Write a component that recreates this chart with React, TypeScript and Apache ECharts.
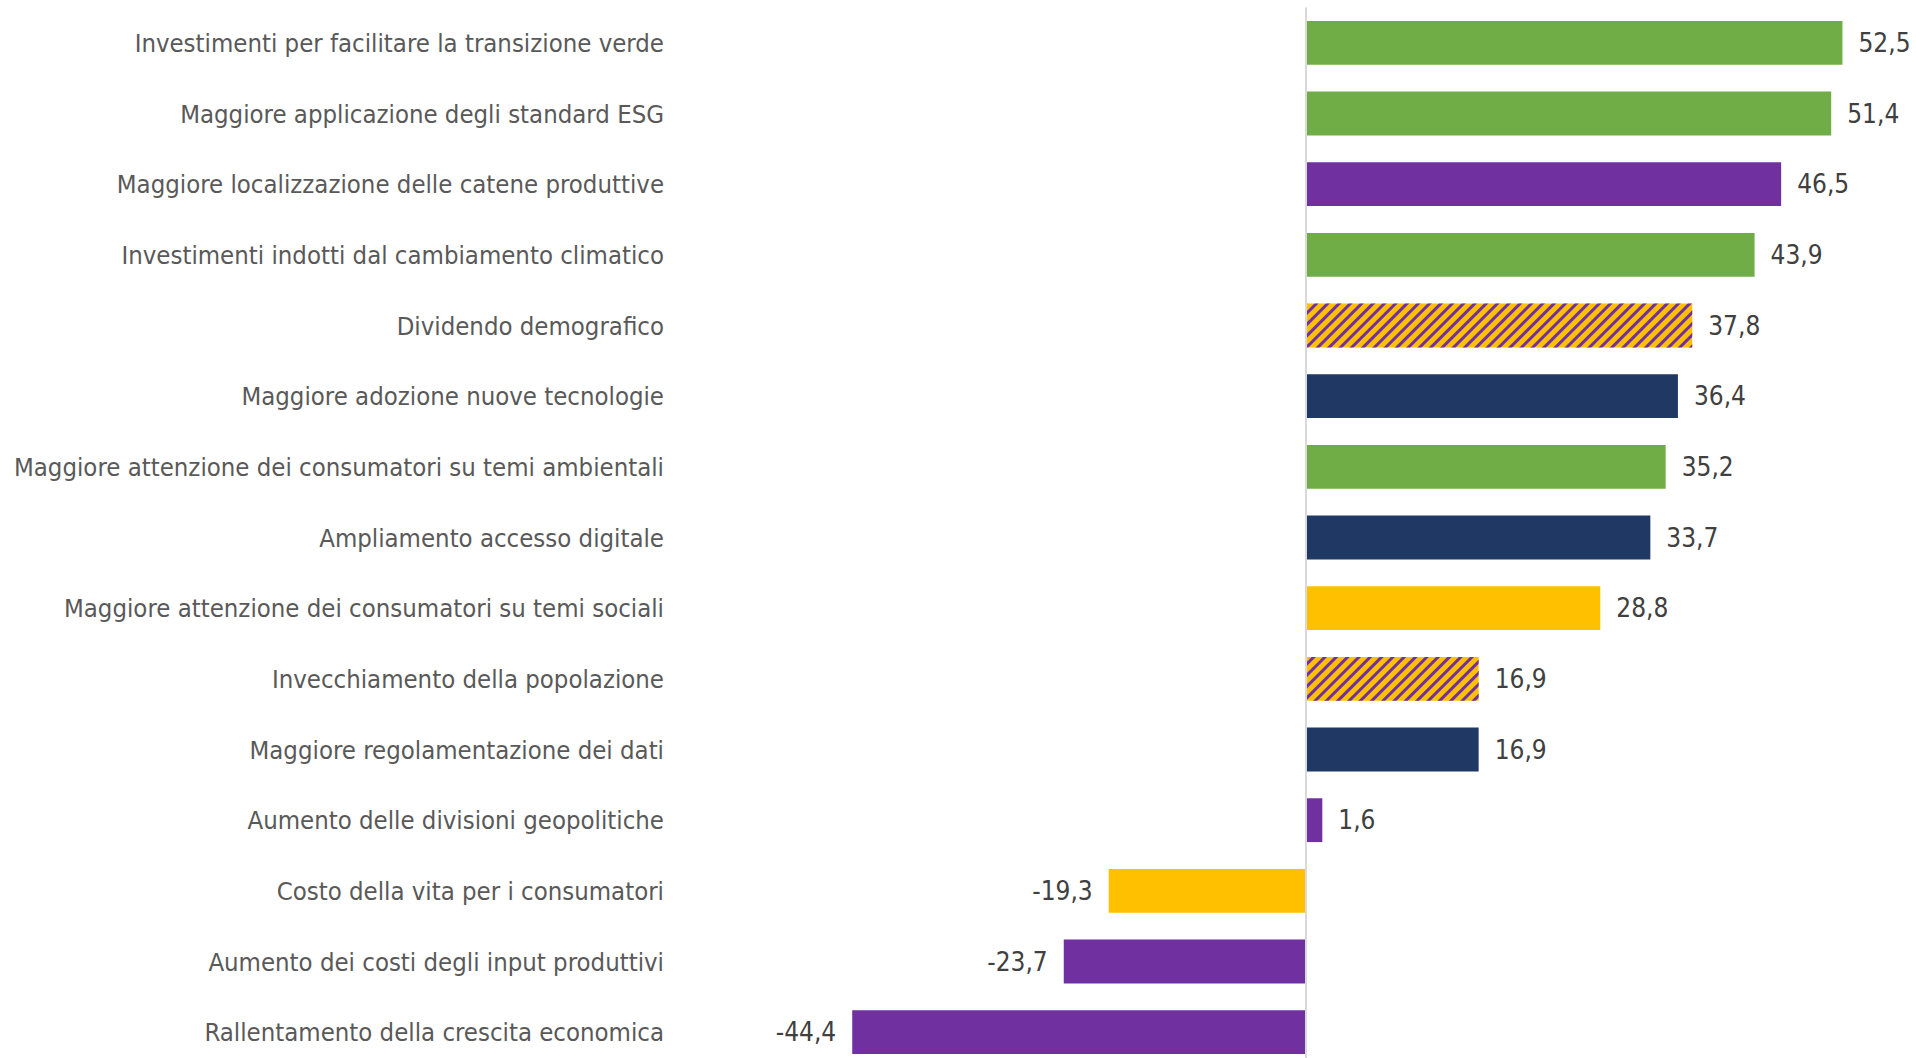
import React, { useEffect, useRef } from "react";
import * as echarts from "echarts";

const categories: string[] = [
  "Investimenti per facilitare la transizione verde",
  "Maggiore applicazione degli standard ESG",
  "Maggiore localizzazione delle catene produttive",
  "Investimenti indotti dal cambiamento climatico",
  "Dividendo demografico",
  "Maggiore adozione nuove tecnologie",
  "Maggiore attenzione dei consumatori su temi ambientali",
  "Ampliamento accesso digitale",
  "Maggiore attenzione dei consumatori su temi sociali",
  "Invecchiamento della popolazione",
  "Maggiore regolamentazione dei dati",
  "Aumento delle divisioni geopolitiche",
  "Costo della vita per i consumatori",
  "Aumento dei costi degli input produttivi",
  "Rallentamento della crescita economica",
];

const values: number[] = [52.5, 51.4, 46.5, 43.9, 37.8, 36.4, 35.2, 33.7, 28.8, 16.9, 16.9, 1.6, -19.3, -23.7, -44.4];

// theme of each driver
const themes: string[] = [
  "ambiente",
  "ambiente",
  "geoeconomia",
  "ambiente",
  "demografia",
  "tecnologia",
  "ambiente",
  "tecnologia",
  "sociale",
  "demografia",
  "tecnologia",
  "geoeconomia",
  "sociale",
  "geoeconomia",
  "geoeconomia",
];

const FONT = "'Liberation Sans Narrow', 'Arial Narrow', 'DejaVu Sans Condensed', sans-serif";

const themeStyle = (t: string): any => {
  switch (t) {
    case "ambiente":
      return { color: "#70AD47" };
    case "geoeconomia":
      return { color: "#7030A0" };
    case "tecnologia":
      return { color: "#1F3864" };
    case "sociale":
      return { color: "#FFC000" };
    case "demografia":
    default:
      return {
        color: "#FFC000",
        decal: {
          symbol: "rect",
          symbolSize: 1,
          color: "#7030A0",
          dashArrayX: [1, 0],
          dashArrayY: [3, 5],
          rotation: -Math.PI / 4,
        },
      };
  }
};

const fmt = (v: number) => v.toFixed(1).replace(".", ",");

export default function App() {
  const ref = useRef<HTMLDivElement>(null);
  useEffect(() => {
    document.body.style.margin = "0";
    const chart = echarts.init(ref.current!, undefined, { renderer: "svg" });
    const data = values.map((v, i) => ({
      value: v,
      itemStyle: themeStyle(themes[i]),
      label: { position: v < 0 ? "left" : "right" },
    }));
    chart.setOption({
      animation: false,
      backgroundColor: "#ffffff",
      grid: {
        left: 795,
        right: 48,
        top: 7.5,
        bottom: -9.5,
        containLabel: false,
        outerBoundsMode: "none",
      },
      xAxis: {
        type: "value",
        min: -50,
        max: 55,
        show: false,
        splitLine: { show: false },
      },
      yAxis: {
        type: "category",
        data: categories,
        inverse: true,
        axisLine: { show: false, onZero: false },
        axisTick: { show: false },
        splitLine: { show: false },
        axisLabel: {
          margin: 131,
          color: "#595959",
          fontSize: 25.5,
          fontFamily: FONT,
        },
      },
      series: [
        {
          type: "bar",
          data,
          barCategoryGap: "38%",
          label: {
            show: true,
            distance: 16,
            color: "#404040",
            fontSize: 26,
            fontFamily: FONT,
            formatter: (p: any) => fmt(p.value),
          },
          markLine: {
            silent: true,
            symbol: "none",
            label: { show: false },
            lineStyle: { color: "#D9D9D9", width: 2, type: "solid" },
            data: [{ xAxis: 0 }],
          },
        },
      ],
    });
    return () => chart.dispose();
  }, []);
  return (
    <div
      ref={ref}
      style={{ position: "absolute", left: 0, top: 0, width: 1916, height: 1058 }}
    />
  );
}
